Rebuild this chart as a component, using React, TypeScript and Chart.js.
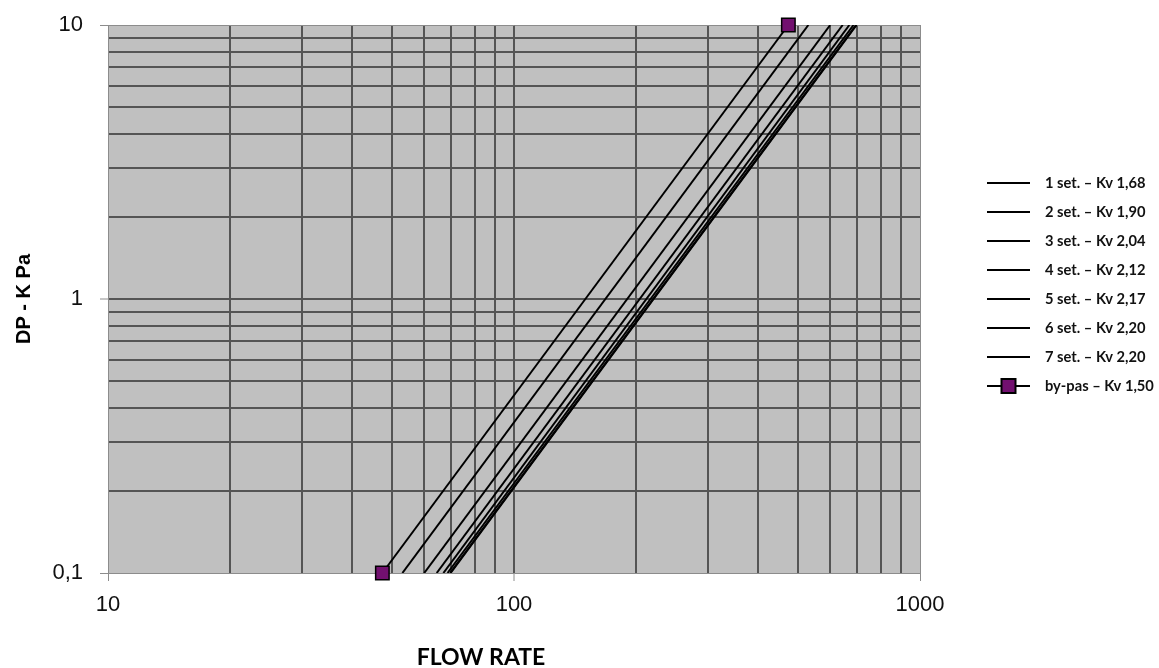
import React, { useEffect, useRef } from 'react';
import { Chart, registerables } from 'chart.js';

Chart.register(...registerables);

// ---- data ----
const SERIES_LABELS = [
  '1 set. – Kv 1,68',
  '2 set. – Kv 1,90',
  '3 set. – Kv 2,04',
  '4 set. – Kv 2,12',
  '5 set. – Kv 2,17',
  '6 set. – Kv 2,20',
  '7 set. – Kv 2,20',
  'by-pas – Kv 1,50',
];
// pressure drop at the two ends of every line (kPa)
const DP_ENDS = [0.1, 10];
// flow rate read at DP = 0.1 and DP = 10
const FLOW_AT_LOW_DP = [53.1, 60.1, 64.5, 67.0, 68.6, 69.6, 69.8, 47.4];
const FLOW_AT_HIGH_DP = [531, 601, 645, 670, 686, 696, 698, 474];

const X_TICKS = [10, 20, 30, 40, 50, 60, 70, 80, 90, 100, 200, 300, 400, 500, 600, 700, 800, 900, 1000];
const Y_TICKS = [0.1, 0.2, 0.3, 0.4, 0.5, 0.6, 0.7, 0.8, 0.9, 1, 2, 3, 4, 5, 6, 7, 8, 9, 10];
const X_TICK_LABELS: Record<string, string> = { '10': '10', '100': '100', '1000': '1000' };
const Y_TICK_LABELS: Record<string, string> = { '0.1': '0,1', '1': '1', '10': '10' };

const X_TITLE = 'FLOW RATE';
const Y_TITLE = 'DP - K Pa';

const LINE_COLOR = '#000000';
const MARKER_COLOR = '#72106f';
const PLOT_BG = '#c0c0c0';
const GRID_COLOR = '#555555';
const EDGE_COLOR = '#8c8c8c';

const backgroundPlugin = {
  id: 'plotBackground',
  beforeDraw(chart: any) {
    const { ctx, chartArea } = chart;
    ctx.save();
    ctx.fillStyle = PLOT_BG;
    ctx.fillRect(chartArea.left, chartArea.top, chartArea.right - chartArea.left, chartArea.bottom - chartArea.top);
    ctx.restore();
  },
};

const legendAndTitlePlugin = {
  id: 'customLegend',
  afterDraw(chart: any) {
    const { ctx } = chart;
    ctx.save();
    // x-axis title
    ctx.fillStyle = '#000';
    ctx.font = 'bold 23px Lato';
    ctx.textAlign = 'center';
    ctx.textBaseline = 'middle';
    ctx.fillText(X_TITLE, 481, 658);

    // legend
    const x0 = 987;
    const x1 = 1030;
    const textX = 1045;
    const y0 = 183;
    const step = 29;
    chart.data.datasets.forEach((ds: any, i: number) => {
      const y = y0 + i * step;
      ctx.strokeStyle = ds.borderColor;
      ctx.lineWidth = 2;
      ctx.beginPath();
      ctx.moveTo(x0, y);
      ctx.lineTo(x1, y);
      ctx.stroke();
      if (ds.pointRadius > 0) {
        const s = 14;
        const cx = (x0 + x1) / 2;
        ctx.fillStyle = ds.pointBackgroundColor;
        ctx.fillRect(cx - s / 2, y - s / 2, s, s);
        ctx.lineWidth = 2;
        ctx.strokeStyle = ds.pointBorderColor;
        ctx.strokeRect(cx - s / 2, y - s / 2, s, s);
      }
      ctx.fillStyle = '#111';
      ctx.font = 'bold 14.7px Lato';
      ctx.textAlign = 'left';
      ctx.textBaseline = 'middle';
      ctx.fillText(ds.label, textX, y);
    });
    ctx.restore();
  },
};

export default function App() {
  const canvasRef = useRef<HTMLCanvasElement | null>(null);

  useEffect(() => {
    if (!canvasRef.current) return;
    const datasets = SERIES_LABELS.map((label, i) => {
      const isBypass = i === SERIES_LABELS.length - 1;
      return {
        label,
        data: [
          { x: FLOW_AT_LOW_DP[i], y: DP_ENDS[0] },
          { x: FLOW_AT_HIGH_DP[i], y: DP_ENDS[1] },
        ],
        borderColor: LINE_COLOR,
        borderWidth: 2,
        pointRadius: isBypass ? 9.5 : 0,
        pointStyle: 'rect',
        pointBackgroundColor: MARKER_COLOR,
        pointBorderColor: '#000',
        pointBorderWidth: 1.5,
        clip: isBypass ? false : undefined,
        fill: false,
        tension: 0,
      };
    });

    const isEdge = (ctx: any) => {
      const v = ctx.tick ? ctx.tick.value : null;
      const scale = ctx.scale;
      return v !== null && scale && (Math.abs(v - scale.min) < 1e-9 || Math.abs(v - scale.max) < 1e-9);
    };
    const gridColor = (ctx: any) => (isEdge(ctx) ? EDGE_COLOR : GRID_COLOR);
    const gridWidth = (ctx: any) => (isEdge(ctx) ? 1 : 2);

    const chart = new Chart(canvasRef.current, {
      type: 'line',
      data: { datasets } as any,
      options: {
        animation: false,
        responsive: true,
        maintainAspectRatio: false,
        layout: { padding: { left: 0, top: 25, right: 239, bottom: 0 } },
        plugins: {
          legend: { display: false },
          tooltip: { enabled: false },
        },
        scales: {
          x: {
            type: 'logarithmic',
            min: 10,
            max: 1000,
            afterBuildTicks: (scale: any) => {
              scale.ticks = X_TICKS.map((v) => ({ value: v }));
            },
            afterFit: (scale: any) => {
              scale.height = 95;
            },
            ticks: {
              autoSkip: false,
              maxRotation: 0,
              padding: 11,
              color: '#111',
              font: { family: 'Liberation Sans, Arial, sans-serif', size: 22 },
              callback: (value: any) => X_TICK_LABELS[String(value)] ?? '',
            },
            grid: {
              color: gridColor,
              lineWidth: gridWidth,
              drawTicks: true,
              tickLength: 8,
              tickWidth: 1,
              tickColor: (ctx: any) => (X_TICK_LABELS[String(ctx.tick?.value)] ? EDGE_COLOR : 'rgba(0,0,0,0)'),
            },
            border: { display: true, color: EDGE_COLOR, width: 1 },
          },
          y: {
            type: 'logarithmic',
            min: 0.1,
            max: 10,
            afterBuildTicks: (scale: any) => {
              scale.ticks = Y_TICKS.map((v) => ({ value: v }));
            },
            afterFit: (scale: any) => {
              scale.width = 108;
              scale.paddingTop = 0;
              scale.paddingBottom = 0;
            },
            ticks: {
              autoSkip: false,
              padding: 17,
              color: '#111',
              font: { family: 'Liberation Sans, Arial, sans-serif', size: 22 },
              callback: (value: any) => Y_TICK_LABELS[String(value)] ?? '',
            },
            grid: {
              color: gridColor,
              lineWidth: gridWidth,
              drawTicks: true,
              tickLength: 8,
              tickWidth: 1,
              tickColor: (ctx: any) => (Y_TICK_LABELS[String(ctx.tick?.value)] ? EDGE_COLOR : 'rgba(0,0,0,0)'),
            },
            border: { display: true, color: EDGE_COLOR, width: 1 },
            title: {
              display: true,
              text: Y_TITLE,
              color: '#000',
              font: { family: 'Liberation Sans, Arial, sans-serif', size: 20, weight: 'bold' },
              padding: { top: 12, bottom: 0 },
            },
          },
        },
      } as any,
      plugins: [backgroundPlugin, legendAndTitlePlugin],
    });
    return () => chart.destroy();
  }, []);

  return (
    <div style={{ position: 'fixed', left: 0, top: 0, width: 1159, height: 668, background: '#fff' }}>
      <canvas ref={canvasRef} />
    </div>
  );
}
